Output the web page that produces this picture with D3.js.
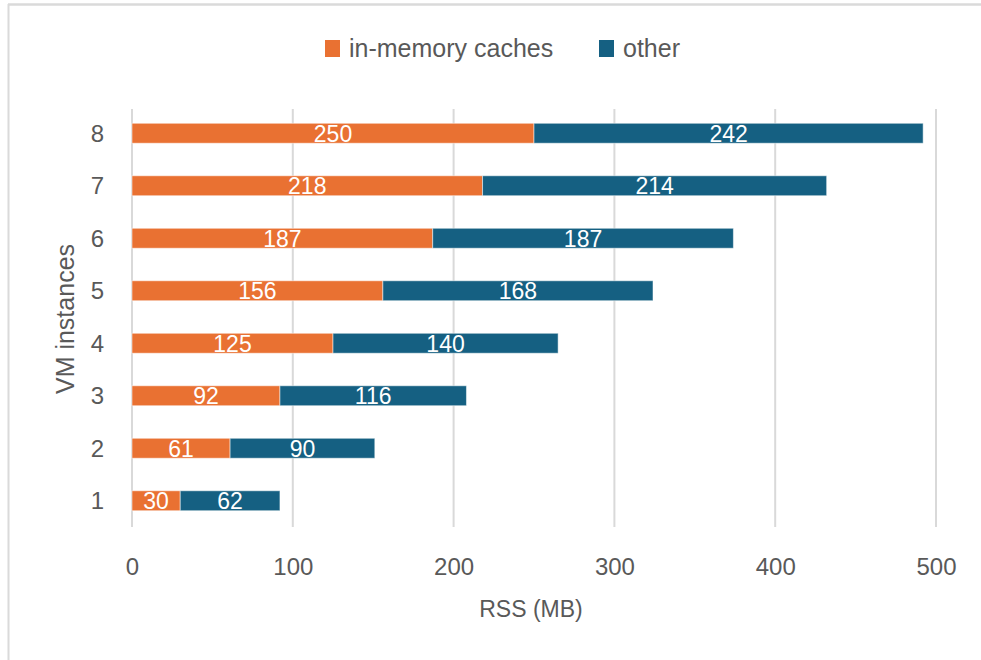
<!DOCTYPE html>
<html>
<head>
<meta charset="utf-8">
<script src="https://cdn.jsdelivr.net/npm/d3@7"></script>
<style>
  html, body { margin: 0; padding: 0; background: #fff; }
  svg { display: block; }
  text { font-family: "Liberation Sans", Arial, sans-serif; }
</style>
</head>
<body>
<svg id="chart" width="981" height="660"></svg>
<script>
const categories = ["1", "2", "3", "4", "5", "6", "7", "8"];
const inMemoryCaches = [30, 61, 92, 125, 156, 187, 218, 250];
const other = [62, 90, 116, 140, 168, 187, 214, 242];
const seriesNames = ["in-memory caches", "other"];
const xTicks = [0, 100, 200, 300, 400, 500];
const xTitle = "RSS (MB)";
const yTitle = "VM instances";

const colors = ["#E97132", "#156082"];
const textColor = "#595959";
const gridColor = "#D9D9D9";

const svg = d3.select("#chart");

// chart frame
svg.append("line").attr("x1", 8).attr("x2", 981).attr("y1", 4.5).attr("y2", 4.5)
  .attr("stroke", "#DADADA").attr("stroke-width", 2.5);
svg.append("line").attr("x1", 8.5).attr("x2", 8.5).attr("y1", 4).attr("y2", 660)
  .attr("stroke", "#DADADA").attr("stroke-width", 2);

const x = d3.scaleLinear().domain([0, 500]).range([132, 936]);
const y = d3.scaleBand().domain(categories.slice().reverse()).range([107, 527])
  .paddingInner(0.62).paddingOuter(0.31);

// gridlines
svg.append("g").selectAll("line").data(xTicks).join("line")
  .attr("x1", d => x(d)).attr("x2", d => x(d))
  .attr("y1", 109).attr("y2", 527)
  .attr("stroke", gridColor).attr("stroke-width", 2);

// stacked data
const rows = categories.map((c, i) => ({ cat: c, a: inMemoryCaches[i], b: other[i] }));
const stack = d3.stack().keys(["a", "b"])(rows);

const g = svg.append("g");
stack.forEach((layer, li) => {
  g.append("g").selectAll("rect").data(layer).join("rect")
    .attr("x", d => x(d[0]))
    .attr("y", d => y(d.data.cat))
    .attr("width", d => x(d[1]) - x(d[0]))
    .attr("height", y.bandwidth())
    .attr("fill", colors[li])
    .attr("stroke", "#ffffff").attr("stroke-opacity", 0.5).attr("stroke-width", 1);
  g.append("g").selectAll("text").data(layer).join("text")
    .attr("x", d => (x(d[0]) + x(d[1])) / 2)
    .attr("y", d => y(d.data.cat) + y.bandwidth() / 2 + 8.5)
    .attr("text-anchor", "middle")
    .attr("fill", "#ffffff")
    .attr("font-size", 23)
    .text(d => d[1] - d[0]);
});

// y axis labels
const yAxis = d3.axisLeft(y).tickSize(0).tickPadding(0);
const ya = svg.append("g").attr("transform", "translate(104,0)").call(yAxis);
ya.select(".domain").remove();
ya.selectAll("text").attr("font-size", 24).attr("fill", textColor)
  .attr("font-family", "Liberation Sans, Arial, sans-serif").attr("dy", "0.36em");

// x axis labels
const xAxis = d3.axisBottom(x).tickValues(xTicks).tickSize(0).tickPadding(0);
const xa = svg.append("g").attr("transform", "translate(0,557)").call(xAxis);
xa.select(".domain").remove();
xa.selectAll("text").attr("font-size", 24).attr("fill", textColor)
  .attr("font-family", "Liberation Sans, Arial, sans-serif").attr("dy", "0.75em");

// axis titles
svg.append("text").attr("x", 531).attr("y", 617).attr("text-anchor", "middle")
  .attr("font-size", 23).attr("fill", textColor).text(xTitle);
svg.append("text").attr("transform", "translate(74,319) rotate(-90)")
  .attr("text-anchor", "middle").attr("font-size", 25).attr("fill", textColor).text(yTitle);

// legend
const legendX = [325, 599];
const lg = svg.append("g");
seriesNames.forEach((name, i) => {
  lg.append("rect").attr("x", legendX[i]).attr("y", 40).attr("width", 15).attr("height", 17)
    .attr("fill", colors[i]);
  lg.append("text").attr("x", legendX[i] + 24).attr("y", 57)
    .attr("font-size", 25).attr("fill", textColor).text(name);
});
</script>
</body>
</html>
